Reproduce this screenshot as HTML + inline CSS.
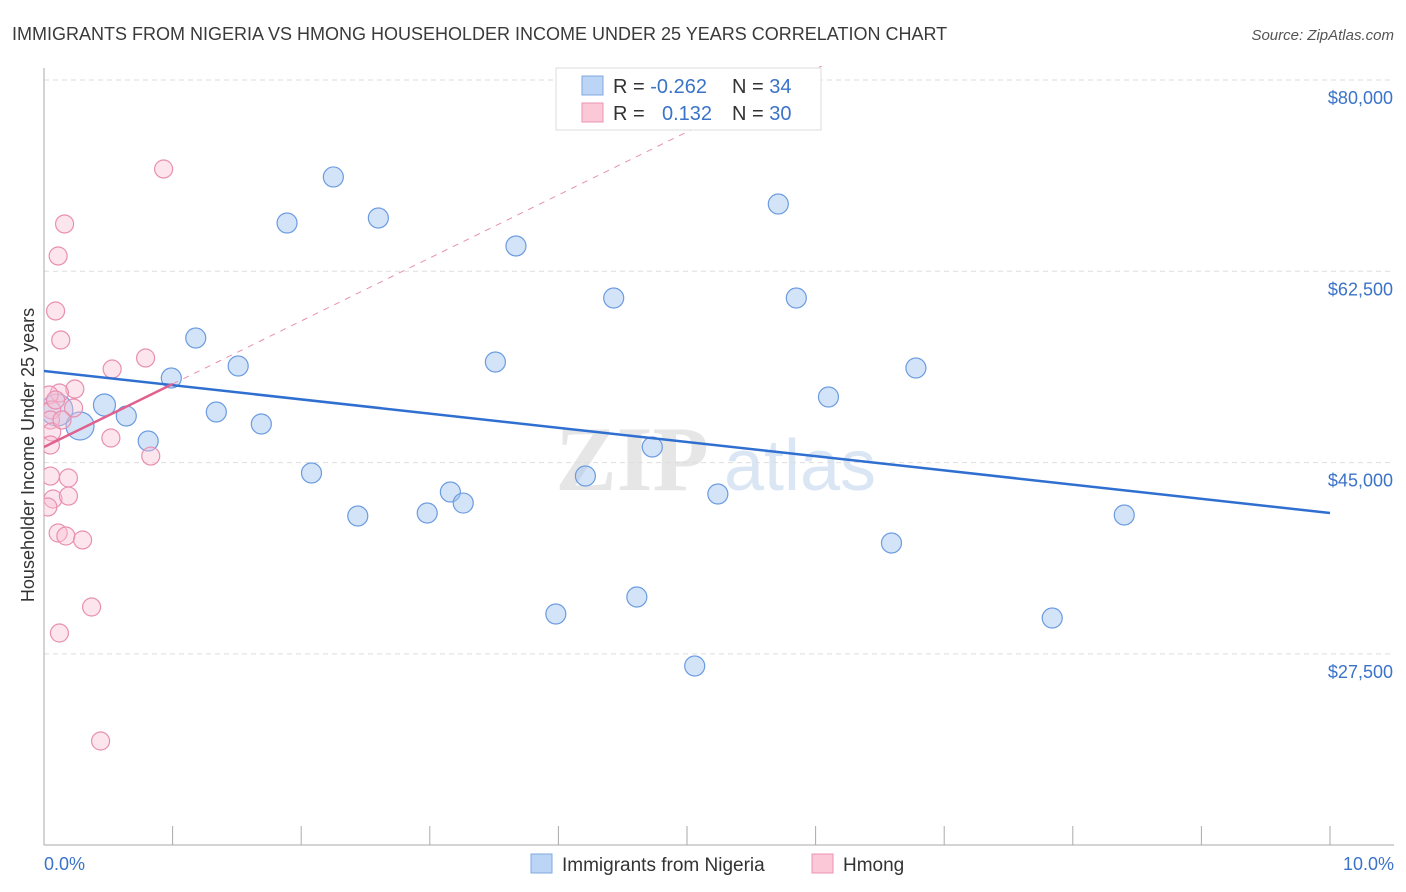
<!DOCTYPE html>
<html><head><meta charset="utf-8"><style>
body{margin:0;background:#fff;font-family:"Liberation Sans",sans-serif;}
svg{display:block}
</style></head><body>
<svg width="1406" height="892" xmlns="http://www.w3.org/2000/svg">
<text x="12" y="40" font-size="18" fill="#3a3a3a">IMMIGRANTS FROM NIGERIA VS HMONG HOUSEHOLDER INCOME UNDER 25 YEARS CORRELATION CHART</text>
<text x="1394" y="40" font-size="15" fill="#555" font-style="italic" text-anchor="end">Source: ZipAtlas.com</text>
<g>
<text x="632" y="490" font-size="92" fill="#e6e6e6" font-family="Liberation Serif,serif" text-anchor="middle" font-weight="bold">ZIP</text>
<text x="800" y="490" font-size="72" fill="#dbe6f5" text-anchor="middle">atlas</text>
</g>
<g id="grid"></g>
<g id="axes"></g>
<text x="34" y="455" font-size="18" fill="#333" text-anchor="middle" transform="rotate(-90 34 455)">Householder Income Under 25 years</text>
<text x="44" y="870" font-size="18" fill="#3b73c9">0.0%</text>
<text x="1394" y="870" font-size="18" fill="#3b73c9" text-anchor="end">10.0%</text>
<defs><clipPath id="pc"><rect x="44" y="66" width="1350" height="780"/></clipPath></defs>
<g id="marks" clip-path="url(#pc)"></g>
<g>
<rect x="556" y="68" width="265" height="62" fill="#fff" stroke="#ddd"/>
<rect x="582" y="76" width="21" height="19" fill="#bcd4f5" stroke="#7fa8e0"/>
<rect x="582" y="103" width="21" height="19" fill="#fbc8d8" stroke="#eb93b0"/>
<text x="613" y="93" font-size="20" fill="#333">R = <tspan fill="#3b73c9">-0.262</tspan><tspan x="732">N = </tspan><tspan fill="#3b73c9">34</tspan></text>
<text x="613" y="120" font-size="20" fill="#333">R = <tspan x="662" fill="#3b73c9">0.132</tspan><tspan x="732">N = </tspan><tspan fill="#3b73c9">30</tspan></text>
</g>
<g>
<rect x="531" y="854" width="21" height="19" fill="#bcd4f5" stroke="#7fa8e0"/>
<text x="562" y="871" font-size="19" fill="#333">Immigrants from Nigeria</text>
<rect x="812" y="854" width="21" height="19" fill="#fbc8d8" stroke="#eb93b0"/>
<text x="843" y="871" font-size="19" fill="#333">Hmong</text>
</g>
</svg>
<script>
const yTicks=[80000,62500,45000,27500];
const yTickLabels=["$80,000","$62,500","$45,000","$27,500"];
const xTicks=[1,2,3,4,5,6,7,8,9,10];
const nigeriaX=[0.28,0.47,0.64,0.81,0.99,1.18,1.34,1.51,1.69,1.89,2.08,2.25,2.44,2.60,2.98,3.16,3.26,3.51,3.67,3.98,4.21,4.43,4.61,4.73,5.06,5.24,5.71,5.85,6.10,6.59,6.78,7.84,8.40,0.10];
const nigeriaY=[48350,50270,49260,46975,52740,56400,49630,53840,48530,66920,44050,71130,40115,67375,40390,42310,41300,54200,64815,31150,43775,60055,32705,46425,26390,42130,68655,60055,51000,37645,53655,30785,40205,49810];
const nigeriaSize=[14,11,10,10,10,10,10,10,10,10,10,10,10,10,10,10,10,10,10,10,10,10,10,10,10,10,10,10,10,10,10,10,10,16];
const hmongX=[0.93,0.16,0.11,0.09,0.13,0.79,0.53,0.24,0.12,0.04,0.06,0.23,0.05,0.06,0.52,0.83,0.05,0.19,0.07,0.19,0.03,0.11,0.17,0.30,0.37,0.12,0.44,0.09,0.05,0.14];
const hmongY=[71860,66830,63900,58870,56215,54570,53560,51730,51370,51185,49810,49995,48900,47800,47250,45600,43770,43590,41670,41940,40940,38560,38285,37920,31790,29410,19530,50730,46610,48900];
const nigeriaTrend=[53380,40390];
const hmongTrend=[46425,52190];
const NS="http://www.w3.org/2000/svg";
const X=v=>44+v*128.6;
const Y=v=>80+(80000-v)/17500*191.3;
function mk(t,a,p){const e=document.createElementNS(NS,t);for(const k in a)e.setAttribute(k,a[k]);p.appendChild(e);return e;}
const grid=document.getElementById('grid'),axes=document.getElementById('axes'),marks=document.getElementById('marks');
yTicks.forEach((t,i)=>{
 const l=mk('line',{x1:44,x2:1394,y1:Y(t),y2:Y(t),stroke:'#ddd','stroke-dasharray':'5,4'},grid);
 
 
 const tx=mk('text',{x:1393,y:Y(t)+24,'font-size':18,fill:'#3b73c9','text-anchor':'end'},grid);
 tx.textContent=yTickLabels[i];
 
 
});
mk('line',{x1:44,x2:44,y1:68,y2:845,stroke:'#aaa'},axes);
mk('line',{x1:44,x2:1394,y1:845,y2:845,stroke:'#aaa'},axes);
xTicks.forEach(t=>{const l=mk('line',{x1:X(t),x2:X(t),y1:826,y2:845,stroke:'#aaa'},axes);
 
 });
nigeriaX.forEach((x,i)=>{const c=mk('circle',{cx:X(x),cy:Y(nigeriaY[i]),r:nigeriaSize[i],fill:'rgba(160,195,240,0.45)',stroke:'#6b9be0','stroke-width':1.2},marks);
 
 });
hmongX.forEach((x,i)=>{const c=mk('circle',{cx:X(x),cy:Y(hmongY[i]),r:9,fill:'rgba(250,190,210,0.4)',stroke:'#e88fb0','stroke-width':1.2},marks);
 
 });
const slope=hmongTrend[1]-hmongTrend[0];
let d=mk('line',{x1:X(1),y1:Y(hmongTrend[1]),x2:X(10),y2:Y(hmongTrend[0]+slope*10),stroke:'#e88fb0','stroke-dasharray':'6,6','stroke-width':1},marks);


let tl=mk('line',{x1:X(0),y1:Y(nigeriaTrend[0]),x2:X(10),y2:Y(nigeriaTrend[1]),stroke:'#2f6fd0','stroke-width':2.5},marks);


let hl=mk('line',{x1:X(0),y1:Y(hmongTrend[0]),x2:X(1),y2:Y(hmongTrend[1]),stroke:'#e0608e','stroke-width':2.5},marks);


</script>
</body></html>
